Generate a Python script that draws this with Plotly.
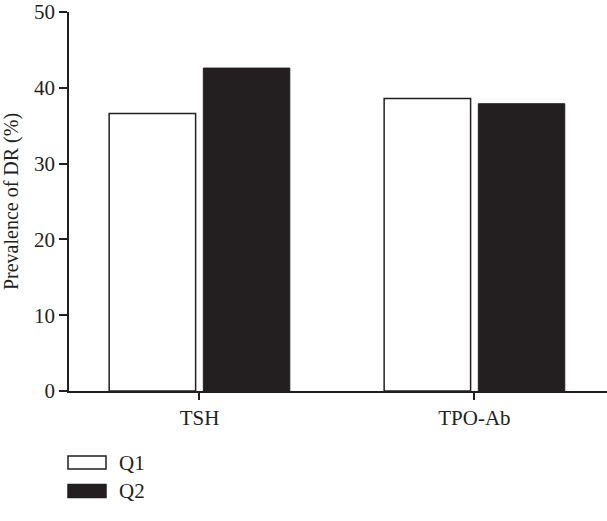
import plotly.graph_objects as go

categories = ["TSH", "TPO-Ab"]
q1_values = [36.6, 38.6]
q2_values = [42.6, 37.9]
series_names = ["Q1", "Q2"]
y_ticks = [0, 10, 20, 30, 40, 50]

DARK = "#231f20"
FONT = "Liberation Serif"
FS = 20

W, H = 607, 521
ML, MR, MT, MB = 69, 0, 12, 130
PW, PH = W - ML - MR, H - MT - MB


def px(x):
    return (x - ML) / PW


def py(y):
    return 1 - (y - MT) / PH


fig = go.Figure()
fig.add_trace(go.Bar(
    x=categories, y=q1_values, name=series_names[0],
    marker=dict(color="white", line=dict(color=DARK, width=1.5)),
    showlegend=False,
))
fig.add_trace(go.Bar(
    x=categories, y=q2_values, name=series_names[1],
    marker=dict(color=DARK, line=dict(color=DARK, width=1)),
    showlegend=False,
))

# legend drawn as swatches below the plot
legend_rows = [(series_names[0], "white"), (series_names[1], DARK)]
row_y = [462.5, 491]
for (name, fill), yc in zip(legend_rows, row_y):
    fig.add_shape(type="rect", xref="paper", yref="paper",
                  x0=px(68), x1=px(106), y0=py(yc + 6.5), y1=py(yc - 6.5),
                  fillcolor=fill, line=dict(color=DARK, width=1.5))
    fig.add_annotation(xref="paper", yref="paper",
                       x=px(117), y=py(yc),
                       text=name, showarrow=False, xanchor="left", yanchor="middle",
                       font=dict(family=FONT, size=21, color=DARK))

fig.update_layout(
    width=W, height=H,
    margin=dict(l=ML, r=MR, t=MT, b=MB),
    paper_bgcolor="white", plot_bgcolor="white",
    barmode="group", bargap=0.315, bargroupgap=0.082,
    font=dict(family=FONT, size=FS, color=DARK),
    showlegend=False,
)
fig.update_xaxes(
    range=[-0.4745, 1.482], automargin=False,
    showline=True, linecolor=DARK, linewidth=1.5,
    ticks="outside", ticklen=7, tickwidth=1.5, tickcolor=DARK,
    showgrid=False, zeroline=False,
    tickfont=dict(family=FONT, size=21, color=DARK),
)
fig.update_yaxes(
    range=[0, 50], tickvals=y_ticks, automargin=False,
    ticklabeloverflow="allow",
    showline=True, linecolor=DARK, linewidth=1.5,
    ticks="outside", ticklen=8, tickwidth=1.5, tickcolor=DARK,
    showgrid=False, zeroline=False,
    tickfont=dict(family=FONT, size=21, color=DARK),
    title=dict(text="Prevalence of DR (%)", font=dict(family=FONT, size=FS, color=DARK), standoff=10),
)

fig.write_html("out.html", config={"displayModeBar": False},
               post_script="document.body.style.margin='0';")
